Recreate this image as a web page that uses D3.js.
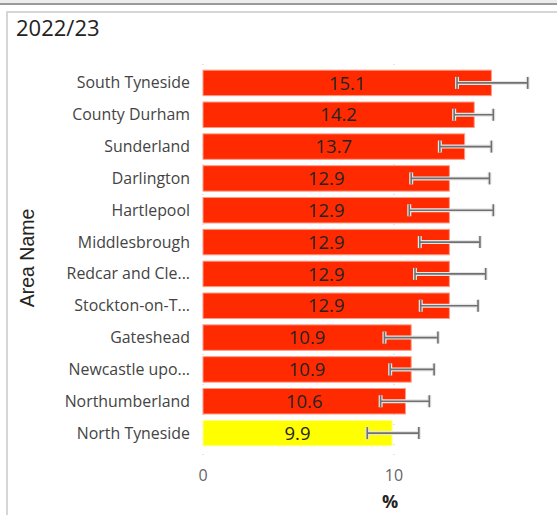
<!DOCTYPE html>
<html>
<head>
<meta charset="utf-8">
<script src="https://cdn.jsdelivr.net/npm/d3@7"></script>
<style>
  body { margin: 0; background: #fff; }
  text { font-family: "Segoe UI", "Open Sans", sans-serif; }
</style>
</head>
<body>
<div id="chart"></div>
<script>
// Data
const areas = ["South Tyneside", "County Durham", "Sunderland", "Darlington", "Hartlepool",
  "Middlesbrough", "Redcar and Cle...", "Stockton-on-T...", "Gateshead", "Newcastle upo...",
  "Northumberland", "North Tyneside"];
const values = [15.1, 14.2, 13.7, 12.9, 12.9, 12.9, 12.9, 12.9, 10.9, 10.9, 10.6, 9.9];
const lower = [13.3, 13.15, 12.4, 10.9, 10.8, 11.35, 11.1, 11.4, 9.5, 9.8, 9.3, 8.6];
const upper = [17.0, 15.2, 15.1, 15.0, 15.2, 14.5, 14.8, 14.4, 12.3, 12.1, 11.85, 11.3];
const highlight = ["North Tyneside"];
const xTicks = [0, 10];

const W = 557, H = 515;

const svg = d3.select("#chart")
    .append("svg")
    .attr("width", W)
    .attr("height", H);

// Frame
svg.append("rect").attr("x", 0).attr("y", 0).attr("width", W).attr("height", 4).attr("fill", "#ececec");
svg.append("rect").attr("x", 0).attr("y", 3).attr("width", W).attr("height", 2).attr("fill", "#9a9a9a");
svg.append("rect").attr("x", 7).attr("y", 12).attr("width", W).attr("height", H)
    .attr("fill", "#fff").attr("stroke", "#d6d6d6").attr("stroke-width", 2);

svg.append("text")
    .attr("x", 16).attr("y", 36)
    .attr("font-size", 22).attr("fill", "#222")
    .text("2022/23");

// Scales
const x = d3.scaleLinear().domain([0, 10]).range([203, 394]);
const y = d3.scaleBand().domain(areas).range([67, 449]).paddingInner(0.2).paddingOuter(0.1);

// Gridlines (dotted)
svg.append("g").selectAll("line")
    .data(xTicks)
    .enter()
    .append("line")
    .attr("x1", d => x(d)).attr("x2", d => x(d))
    .attr("y1", 64).attr("y2", 456)
    .attr("stroke", "#c8c8c8")
    .attr("stroke-dasharray", "1,9");

// Bars
const g = svg.append("g");
g.selectAll("rect.bar")
    .data(areas)
    .enter()
    .append("rect")
    .attr("class", "bar")
    .attr("x", x(0))
    .attr("y", d => y(d))
    .attr("width", (d, i) => x(values[i]) - x(0))
    .attr("height", y.bandwidth())
    .attr("fill", d => highlight.includes(d) ? "#ffff00" : "#ff2a00")
    .attr("stroke", d => highlight.includes(d) ? "#ffff99" : "#ff9a85")
    .attr("stroke-width", 1);

// Value labels
g.selectAll("text.val")
    .data(areas)
    .enter()
    .append("text")
    .attr("class", "val")
    .attr("x", (d, i) => (x(0) + x(values[i])) / 2)
    .attr("y", d => y(d) + y.bandwidth() / 2)
    .attr("dy", "0.36em")
    .attr("text-anchor", "middle")
    .attr("font-size", 18.5)
    .attr("fill", "#252423")
    .text((d, i) => values[i].toFixed(1));

// Error bars
const eb = svg.append("g");
areas.forEach((a, i) => {
    const cy = y(a) + y.bandwidth() / 2;
    const x0 = x(lower[i]), x1 = x(upper[i]);
    const eg = eb.append("g");
    // light halo
    eg.append("line").attr("x1", x0).attr("x2", x1).attr("y1", cy).attr("y2", cy)
        .attr("stroke", "#e6e6e6").attr("stroke-width", 4);
    [x0, x1].forEach(cx => {
        eg.append("line").attr("x1", cx).attr("x2", cx).attr("y1", cy - 6).attr("y2", cy + 6)
            .attr("stroke", "#e6e6e6").attr("stroke-width", 4);
    });
    eg.append("line").attr("x1", x0).attr("x2", x1).attr("y1", cy).attr("y2", cy)
        .attr("stroke", "#707070").attr("stroke-width", 1.6);
    [x0, x1].forEach(cx => {
        eg.append("line").attr("x1", cx).attr("x2", cx).attr("y1", cy - 6).attr("y2", cy + 6)
            .attr("stroke", "#707070").attr("stroke-width", 1.6);
    });
});

// Y axis labels
svg.append("g").selectAll("text")
    .data(areas)
    .enter()
    .append("text")
    .attr("x", 190)
    .attr("y", d => y(d) + y.bandwidth() / 2)
    .attr("dy", "0.35em")
    .attr("text-anchor", "end")
    .attr("font-size", 15.9)
    .attr("fill", "#444")
    .text(d => d);

// X axis tick labels
svg.append("g").selectAll("text")
    .data(xTicks)
    .enter()
    .append("text")
    .attr("x", d => x(d))
    .attr("y", 481)
    .attr("text-anchor", "middle")
    .attr("font-size", 16)
    .attr("fill", "#666")
    .text(d => d);

// Axis titles
svg.append("text")
    .attr("x", 390).attr("y", 508)
    .attr("text-anchor", "middle")
    .attr("font-size", 18).attr("font-weight", "bold")
    .attr("fill", "#252423")
    .text("%");

svg.append("text")
    .attr("transform", "translate(34, 258) rotate(-90)")
    .attr("text-anchor", "middle")
    .style("font-family", "'Liberation Sans', Arial, sans-serif")
    .attr("font-size", 19.5)
    .attr("fill", "#252423")
    .text("Area Name");
</script>
</body>
</html>
